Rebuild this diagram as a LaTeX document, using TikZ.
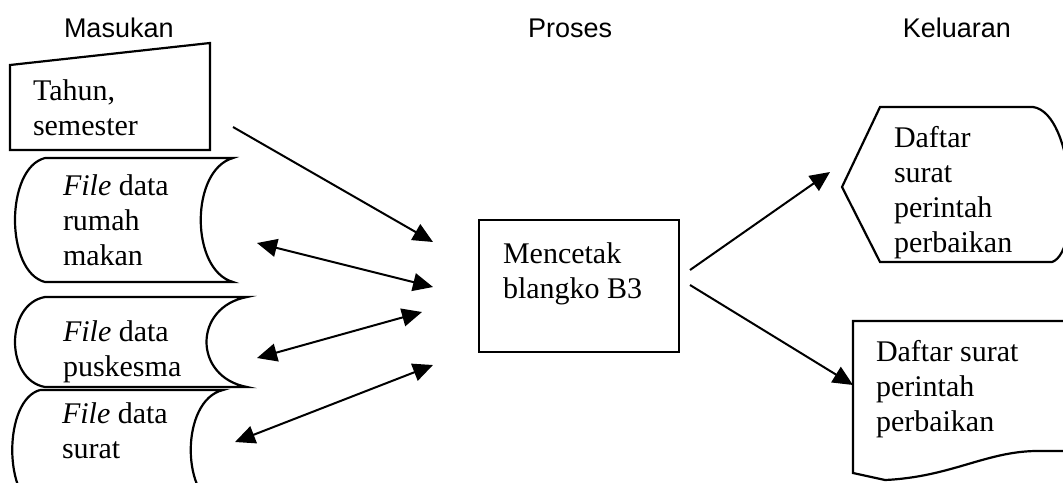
\documentclass[tikz,border=0pt]{standalone}
\usepackage{fontspec}
\setmainfont{Liberation Serif}
\newfontfamily\headfont{Liberation Sans}
\usetikzlibrary{arrows.meta}

\begin{document}
\begin{tikzpicture}[x=0.5pt,y=-0.5pt,line width=1pt,
  >={Triangle[length=10pt,width=9pt]},
  box/.style={draw,line width=1.1pt},
  text node/.style={anchor=north west,align=left,inner sep=0pt,
    font=\fontsize{15}{17.5}\selectfont},
  head node/.style={anchor=base west,inner sep=0pt,
    font=\headfont\fontsize{13.5}{15}\selectfont}]

  \useasboundingbox (0,0) rectangle (1063,482);
  \clip (0,0) rectangle (1063,482);

  % column heads
  \node[head node] (masukan) at (63,37) {Masukan};
  \node[head node] (proses) at (527,37) {Proses};
  \node[head node,anchor=base east] (keluaran) at (1012,37) {Keluaran};

  % input
  \draw[box] (10,65) -- (210,43) -- (210,150) -- (10,150) -- cycle;
  \node[text node] (tahun) at (32,79) {Tahun,\\semester};

  % files
  \draw[box] (45,158) -- (233,158) .. controls (190,170) and (190,270) .. (233,282)
    -- (45,282) .. controls (5,272) and (5,168) .. (45,158);
  \node[text node] (rumah) at (62,174) {\textit{File} data\\rumah\\makan};
  \draw[box] (45,297) -- (247,297) .. controls (193,307) and (193,377) .. (247,387)
    -- (45,387) .. controls (5,380) and (5,304) .. (45,297);
  \node[text node] (puskes) at (62,320) {\textit{File} data\\puskesma};
  \draw[box] (40,390) -- (223,390) .. controls (180,400) and (180,500) .. (223,510)
    -- (40,510) .. controls (3,500) and (3,400) .. (40,390);
  \node[text node] (surat) at (61,402) {\textit{File} data\\surat};

  % process
  \node[box,minimum width=100pt,minimum height=66pt,inner sep=0pt] (proc) at (579,286) {};
  \node[text node] (proctext) at (502,242) {Mencetak\\blangko B3};

  % outputs
  \draw[box] (842,187) -- (880,107) -- (1033,107) .. controls (1075,113) and (1082,252) .. (1052,262)
    -- (880,262) -- cycle;
  \node[text node] (layar) at (893,125) {Daftar\\surat\\perintah\\perbaikan};
  \draw[box] (853,321) -- (1080,321) -- (1080,451) -- (1035,451)
    .. controls (985,452) and (950,477) .. (885,480) -- (853,473) -- cycle;
  \node[text node] (cetak) at (875,339) {Daftar surat\\perintah\\perbaikan};

  % arrow ends
  \coordinate (tahunOut) at (233,127);
  \coordinate (rumahEnd) at (257,243);
  \coordinate (puskesEnd) at (257,358);
  \coordinate (suratEnd) at (235,442);
  \coordinate (procA) at (433,242);
  \coordinate (procB) at (433,287);
  \coordinate (procC) at (422,312);
  \coordinate (procD) at (433,365);
  \coordinate (procOut1) at (690,270);
  \coordinate (procOut2) at (690,285);
  \coordinate (layarIn) at (830,172);
  \coordinate (cetakIn) at (853,385);

  \draw[->] (tahunOut) -- (procA);
  \draw[<->] (rumahEnd) -- (procB);
  \draw[<->] (puskesEnd) -- (procC);
  \draw[<->] (suratEnd) -- (procD);
  \draw[->] (procOut1) -- (layarIn);
  \draw[->] (procOut2) -- (cetakIn);

\end{tikzpicture}
\end{document}
